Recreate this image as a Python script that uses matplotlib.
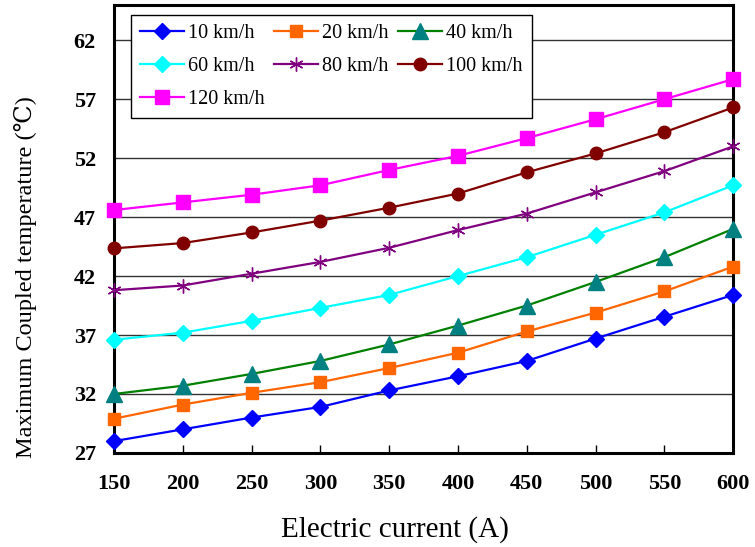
import matplotlib
matplotlib.use("Agg")
import matplotlib.pyplot as plt

# Datos
current = [150, 200, 250, 300, 350, 400, 450, 500, 550, 600]

temp_10 = [28.0, 29.0, 30.0, 30.9, 32.3, 33.5, 34.8, 36.7, 38.55, 40.4]
temp_20 = [29.9, 31.1, 32.1, 33.0, 34.2, 35.5, 37.3, 38.9, 40.7, 42.8]
temp_40 = [32.0, 32.7, 33.7, 34.8, 36.2, 37.8, 39.5, 41.5, 43.6, 46.0]
temp_60 = [36.6, 37.2, 38.2, 39.3, 40.4, 42.0, 43.6, 45.5, 47.4, 49.7]
temp_80 = [40.8, 41.2, 42.2, 43.2, 44.4, 45.9, 47.3, 49.1, 50.9, 53.0]
temp_100 = [44.35, 44.8, 45.7, 46.7, 47.8, 49.0, 50.8, 52.4, 54.2, 56.3]
temp_120 = [47.6, 48.25, 48.9, 49.7, 51.0, 52.2, 53.7, 55.3, 57.0, 58.7]

yticks = [27, 32, 37, 42, 47, 52, 57, 62]

SERIES = [
    ("10 km/h", temp_10, "#0000FF", "#0000FF", "D", 8),
    ("20 km/h", temp_20, "#FF6600", "#FF6600", "s", 9),
    ("40 km/h", temp_40, "#008000", "#008080", "^", 11),
    ("60 km/h", temp_60, "#00FFFF", "#00FFFF", "D", 8),
    ("80 km/h", temp_80, "#800080", "#800080", (6, 2, 0), 10),
    ("100 km/h", temp_100, "#800000", "#800000", "o", 9),
    ("120 km/h", temp_120, "#FF00FF", "#FF00FF", "s", 10),
]

plt.rcParams["font.family"] = ["Liberation Serif", "DejaVu Serif"]

fig = plt.figure(figsize=(7.55, 5.47), dpi=100)
ax = fig.add_axes([0.151, 0.172, 0.820, 0.819])

handles = []
for label, vals, lc, mc, mk, ms in SERIES:
    h, = ax.plot(current, vals, color=lc, linewidth=1.6, marker=mk, markersize=ms,
                 markerfacecolor=mc, markeredgecolor=mc, markeredgewidth=1.0,
                 label=label, clip_on=False, zorder=3)
    handles.append(h)

ax.set_xlim(150, 600)
ax.set_ylim(27, 65)
ax.set_xticks(current)
ax.set_yticks(yticks)
ax.yaxis.grid(True, color="#333333", linewidth=1.0)
ax.set_axisbelow(True)

for lab in ax.get_xticklabels() + ax.get_yticklabels():
    lab.set_fontweight("bold")
    lab.set_fontsize(16)

ax.tick_params(axis="x", direction="in", length=6, width=1, pad=15)
ax.tick_params(axis="y", direction="in", length=0, pad=13)

for sp in ax.spines.values():
    sp.set_linewidth(2.2)
    sp.set_color("black")

ax.set_xlabel("Electric current (A)", fontsize=21)
ax.set_ylabel("Maximum Coupled temperature (℃)", fontsize=17.5)
ax.xaxis.set_label_coords(0.454, -0.14)
ax.yaxis.set_label_coords(-0.124, 0.393)

# orden por filas (como en la figura original): matplotlib llena por columnas
order = [0, 3, 6, 1, 4, 2, 5]
leg = ax.legend([handles[i] for i in order], [SERIES[i][0] for i in order],
                loc="upper left", bbox_to_anchor=(0.027, 0.978), ncol=3,
                fontsize=14.5, frameon=True, fancybox=False, borderaxespad=0,
                handlelength=2.2, handletextpad=0.2, columnspacing=0.45,
                labelspacing=0.7, borderpad=0.45)
leg.get_frame().set_edgecolor("black")
leg.get_frame().set_linewidth(1.0)
leg.get_frame().set_alpha(1)

fig.savefig("out.png", dpi=100)
